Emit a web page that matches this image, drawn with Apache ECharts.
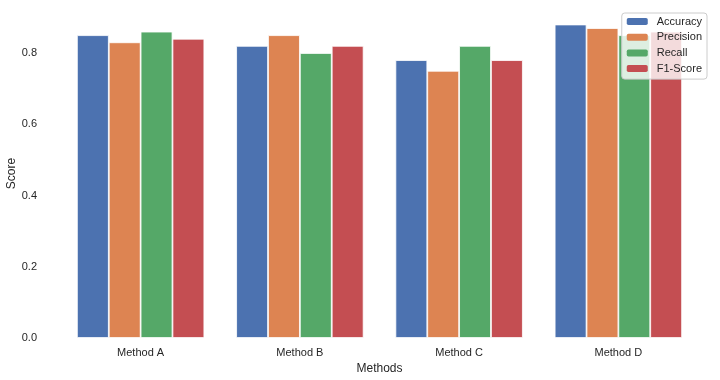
<!DOCTYPE html>
<html>
<head>
<meta charset="utf-8">
<script src="https://cdn.jsdelivr.net/npm/echarts@6/dist/echarts.min.js"></script>
<style>html,body{margin:0;padding:0;background:#fff}#c{width:720px;height:380px}</style>
</head>
<body>
<div id="c"></div>
<script>
const categories = ['Method A', 'Method B', 'Method C', 'Method D'];
const seriesNames = ['Accuracy', 'Precision', 'Recall', 'F1-Score'];
const accuracy = [0.85, 0.82, 0.78, 0.88];
const precision = [0.83, 0.85, 0.75, 0.87];
const recall = [0.86, 0.80, 0.82, 0.85];
const f1 = [0.84, 0.82, 0.78, 0.86];
const colors = ['#4C72B0', '#DD8452', '#55A868', '#C44E52'];
const values = [accuracy, precision, recall, f1];

const font = 'Arial, "Liberation Sans", sans-serif';
const chart = echarts.init(document.getElementById('c'));
chart.setOption({
  animation: false,
  backgroundColor: '#fff',
  textStyle: { fontFamily: font },
  grid: { left: 61, right: 22, top: 9, height: 329, containLabel: false, outerBoundsMode: 'none' },
  legend: {
    right: 13, top: 13, orient: 'vertical',
    itemWidth: 21, itemHeight: 7, itemGap: 4.7,
    padding: [3, 5, 5, 5],
    backgroundColor: 'rgba(255,255,255,0.8)',
    borderColor: '#cccccc', borderWidth: 1, borderRadius: 3,
    textStyle: { fontSize: 11, color: '#262626', fontFamily: font, padding: [0, 0, 0, 4] },
    itemStyle: { borderWidth: 0 },
    data: seriesNames
  },
  xAxis: {
    type: 'category', data: categories,
    name: 'Methods', nameLocation: 'middle', nameGap: 22,
    nameTextStyle: { fontSize: 12, color: '#262626', fontFamily: font },
    axisLine: { show: false }, axisTick: { show: false },
    axisLabel: { fontSize: 11, color: '#262626', margin: 9, fontFamily: font },
    splitLine: { show: false }
  },
  yAxis: {
    type: 'value', min: 0, max: 0.9235, interval: 0.2,
    name: 'Score', nameLocation: 'middle', nameGap: 43, nameMoveOverlap: false,
    nameTextStyle: { fontSize: 12, color: '#262626', fontFamily: font },
    axisLine: { show: false }, axisTick: { show: false },
    splitLine: { show: false },
    axisLabel: { fontSize: 11, color: '#262626', margin: 24, showMaxLabel: false,
      fontFamily: font,
      formatter: v => (Math.abs(v / 0.2 - Math.round(v / 0.2)) < 1e-6 ? v.toFixed(1) : '') }
  },
  series: seriesNames.map((n, i) => ({
    name: n, type: 'bar', data: values[i],
    barGap: '0%', barCategoryGap: '20%',
    itemStyle: { color: colors[i], borderColor: '#ffffff', borderWidth: 0.8 }
  }))
});
</script>
</body>
</html>
